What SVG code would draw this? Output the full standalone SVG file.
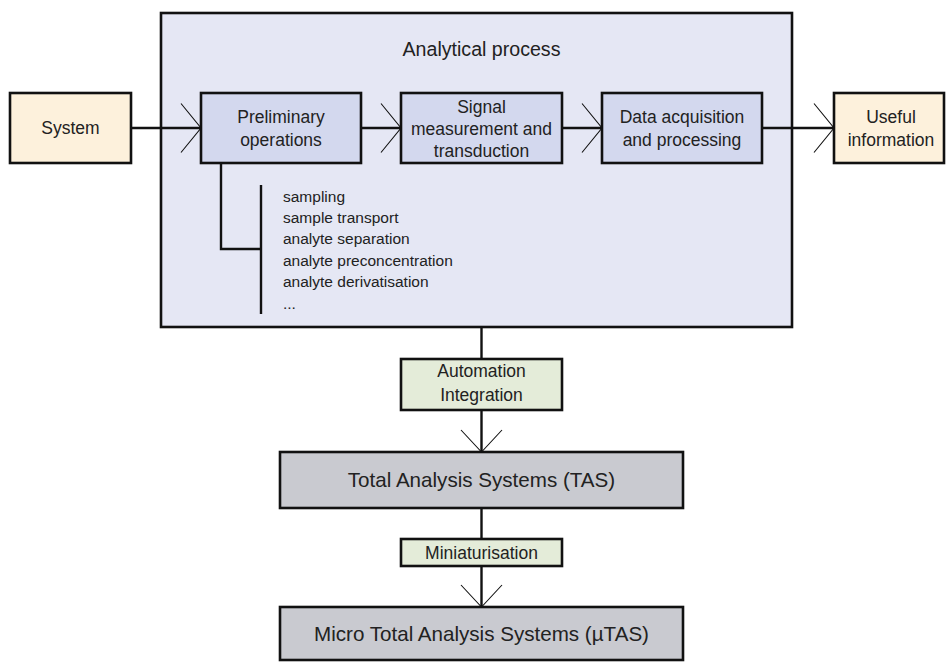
<svg xmlns="http://www.w3.org/2000/svg" width="946" height="662" viewBox="0 0 946 662">
<style>
.box{stroke:#111;stroke-width:2.6}
.outer{fill:#e5e7f4}
.step{fill:#d3d8ee}
.io{fill:#fdf1dc}
.mod{fill:#e4ecd9}
.sys{fill:#c9cad0}
text{font-family:"Liberation Sans",Arial,sans-serif;fill:#222;text-anchor:middle}
.t{font-size:17.5px}
.title{font-size:19.6px}
.big{font-size:20.6px}
.li{font-size:15.5px;text-anchor:start}
.ln{stroke:#111;stroke-width:2.4;fill:none}
.ah{stroke:#111;stroke-width:1.1;fill:none}
</style>
<defs>
<path id="ar" class="ah" d="M-20,-24.5 L0,0 L-20,24.5"/>
<path id="ad" class="ah" d="M-20.5,-22 L0,0 L20.5,-22"/>
</defs>
<g id="analytical-process">
<rect class="box outer" x="161" y="13" width="631" height="314"/>
<text class="title" x="481.5" y="56">Analytical process</text>
</g>
<g id="system">
<rect class="box io" x="10" y="93" width="121" height="70"/>
<text class="t" x="70.5" y="134">System</text>
</g>
<g id="preliminary">
<rect class="box step" x="201" y="93" width="160" height="70"/>
<text class="t" x="281" y="123">Preliminary</text>
<text class="t" x="281" y="146">operations</text>
</g>
<g id="signal">
<rect class="box step" x="401" y="93" width="161" height="70"/>
<text class="t" x="481.5" y="113">Signal</text>
<text class="t" x="481.5" y="135">measurement and</text>
<text class="t" x="481.5" y="157">transduction</text>
</g>
<g id="data">
<rect class="box step" x="602" y="93" width="160" height="70"/>
<text class="t" x="682" y="123">Data acquisition</text>
<text class="t" x="682" y="146">and processing</text>
</g>
<g id="useful">
<rect class="box io" x="834" y="93" width="110" height="70"/>
<text class="t" x="891" y="123">Useful</text>
<text class="t" x="891" y="146">information</text>
</g>
<g id="operations-list">
<text class="li" x="283" y="202">sampling</text>
<text class="li" x="283" y="223">sample transport</text>
<text class="li" x="283" y="244">analyte separation</text>
<text class="li" x="283" y="266">analyte preconcentration</text>
<text class="li" x="283" y="287">analyte derivatisation</text>
<text class="li" x="283" y="309">...</text>
</g>
<g id="automation">
<rect class="box mod" x="401" y="359" width="161" height="51"/>
<text class="t" x="481.5" y="377">Automation</text>
<text class="t" x="481.5" y="401">Integration</text>
</g>
<g id="tas">
<rect class="box sys" x="280" y="452" width="403" height="56"/>
<text class="big" x="481.5" y="487">Total Analysis Systems (TAS)</text>
</g>
<g id="miniaturisation">
<rect class="box mod" x="401" y="539" width="161" height="27"/>
<text class="t" x="481.5" y="559">Miniaturisation</text>
</g>
<g id="utas">
<rect class="box sys" x="280" y="607" width="403" height="53"/>
<text class="big" x="481.5" y="641">Micro Total Analysis Systems (µTAS)</text>
</g>
<g id="connectors">
<line class="ln" x1="131" y1="128" x2="201" y2="128"/>
<line class="ln" x1="361" y1="128" x2="401" y2="128"/>
<line class="ln" x1="562" y1="128" x2="602" y2="128"/>
<line class="ln" x1="762" y1="128" x2="834" y2="128"/>
<use href="#ar" x="201" y="128"/>
<use href="#ar" x="401" y="128"/>
<use href="#ar" x="602" y="128"/>
<use href="#ar" x="834" y="128"/>
<polyline class="ln" points="221,163 221,249 261,249"/>
<line class="ln" x1="261" y1="185" x2="261" y2="314"/>
<line class="ln" x1="481.5" y1="327" x2="481.5" y2="359"/>
<line class="ln" x1="481.5" y1="410" x2="481.5" y2="452"/>
<use href="#ad" x="481.5" y="452"/>
<line class="ln" x1="481.5" y1="508" x2="481.5" y2="539"/>
<line class="ln" x1="481.5" y1="566" x2="481.5" y2="607"/>
<use href="#ad" x="481.5" y="607"/>
</g>
</svg>
